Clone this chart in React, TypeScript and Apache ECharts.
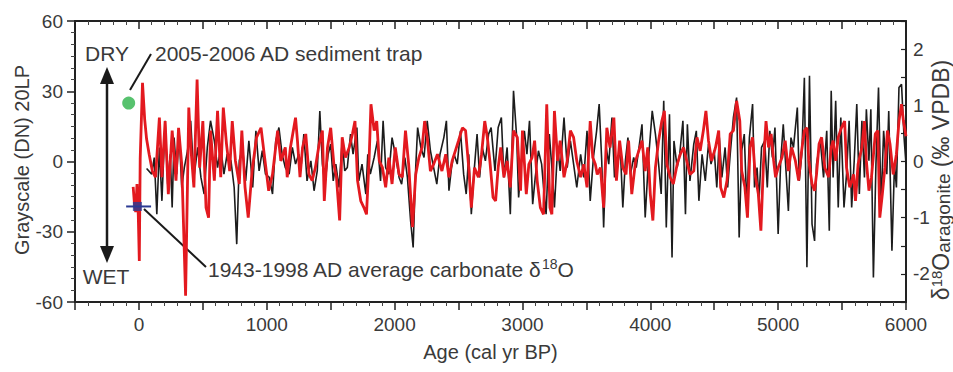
import React, { useEffect, useRef } from "react";
import * as echarts from "echarts";

// ---- Data ----
// Grayscale (DN) 20LP, left axis
const blackAge = [60,100,120,140,160,180,205,225,245,260,275,295,315,335,355,380,405,430,460,485,510,535,560,590,615,640,665,690,720,745,765,785,810,835,860,890,915,940,965,990,1020,1045,1070,1095,1120,1145,1175,1200,1225,1250,1270,1290,1315,1345,1370,1395,1415,1435,1455,1480,1500,1520,1540,1565,1590,1610,1630,1655,1675,1705,1720,1745,1775,1790,1810,1840,1865,1890,1910,1930,1955,1980,2005,2035,2055,2080,2100,2125,2145,2165,2180,2205,2230,2255,2280,2300,2330,2355,2385,2405,2425,2445,2465,2490,2515,2540,2560,2580,2600,2620,2645,2665,2685,2710,2735,2755,2785,2810,2835,2855,2880,2905,2930,2955,2970,2990,3015,3035,3055,3080,3100,3125,3150,3165,3185,3210,3230,3250,3275,3295,3325,3350,3375,3400,3425,3455,3480,3505,3530,3555,3580,3600,3620,3635,3655,3675,3700,3720,3745,3765,3785,3805,3825,3845,3870,3890,3915,3935,3960,3985,4015,4040,4065,4085,4105,4125,4150,4170,4185,4210,4230,4255,4275,4290,4310,4340,4360,4380,4405,4430,4455,4475,4500,4520,4540,4560,4585,4605,4625,4650,4675,4695,4715,4735,4755,4775,4800,4815,4835,4850,4870,4895,4915,4935,4955,4975,5000,5020,5040,5060,5080,5100,5120,5150,5165,5185,5205,5225,5245,5265,5285,5300,5330,5355,5380,5400,5415,5430,5450,5470,5490,5515,5535,5555,5575,5595,5615,5635,5655,5675,5690,5710,5725,5745,5765,5785,5805,5825,5850,5865,5890,5910,5925,5945,5965,5985,6000];
const blackGray = [-3.0,-5.4,1.7,-22.5,6.0,-16.8,17.4,-9.7,3.1,-19.6,10.2,-5.4,11.7,-11.1,-2.6,4.6,17.4,-6.8,6.0,-6.8,-13.9,6.0,17.4,8.8,-2.6,6.0,-5.4,3.1,0.3,-11.1,-35.3,0.3,6.0,-8.3,8.8,-11.1,13.1,-4.0,4.6,-5.4,-6.8,-13.9,8.8,14.5,3.1,-2.6,-5.4,6.0,-1.1,3.1,-1.1,11.7,-8.3,0.3,-12.5,-4.0,21.6,-1.1,-9.7,3.1,7.4,-8.3,-1.1,-11.1,8.8,-4.0,-2.6,11.7,3.1,14.5,-8.3,-1.1,-13.9,3.1,-5.4,1.7,8.8,-8.3,17.4,-2.6,-5.4,10.2,3.1,-6.8,-9.7,1.7,-6.8,-25.3,-36.7,-2.6,14.5,6.0,1.7,17.4,4.6,-1.1,-9.7,3.1,10.2,17.4,-12.5,-2.6,3.1,-1.1,13.1,-5.4,-13.9,3.1,-22.5,-5.4,11.7,-6.8,6.0,0.3,11.7,14.5,-4.0,14.5,18.8,-6.8,6.0,-22.5,30.2,10.2,-15.4,-1.1,13.1,3.1,17.4,-18.2,-6.8,4.6,-1.1,-11.1,-22.5,11.7,-2.6,-19.6,6.0,-4.0,18.8,-2.6,8.8,-1.1,-11.1,3.1,-6.8,13.1,-16.8,1.7,13.1,24.5,0.3,-28.2,6.0,-1.1,18.8,-6.8,-1.1,6.0,-19.6,0.3,10.2,-5.4,1.7,-2.6,7.4,15.9,-23.9,0.3,21.6,11.7,-1.1,-13.9,25.9,-28.2,20.2,-41.0,8.8,-2.6,3.1,17.4,-22.5,15.9,-8.3,7.4,13.1,-16.8,3.1,-8.3,7.4,-1.1,4.6,-11.1,10.2,-6.8,6.0,-11.1,3.1,18.8,27.3,-32.4,4.6,11.7,-19.6,10.2,24.5,-11.1,-2.6,-16.8,6.0,8.8,-11.1,13.1,1.7,14.5,-31.0,0.3,15.9,-2.6,-21.1,10.2,6.0,23.0,-8.3,3.1,35.8,-45.2,36.6,-26.7,-33.9,-1.1,8.8,-6.8,13.1,-29.6,30.2,-6.8,25.9,-19.6,18.8,-19.6,-5.4,17.4,-19.6,0.3,24.5,-13.9,17.4,-6.8,22.3,0.3,22.3,-49.5,-1.1,31.6,-19.6,13.1,-5.4,21.6,-38.1,-1.1,-11.1,31.6,33.0,10.2,-1.1];

// δ18O aragonite (‰ VPDB), right axis
const redAge = [-45,-35,-25,-15,-5,3,10,28,45,60,80,105,130,160,180,205,230,260,290,310,335,365,390,410,430,455,475,500,525,545,560,590,615,640,660,685,710,730,755,785,805,830,855,885,920,955,980,1015,1045,1085,1110,1145,1160,1185,1225,1240,1260,1280,1305,1330,1355,1380,1410,1435,1450,1475,1500,1525,1545,1570,1590,1615,1645,1670,1690,1710,1735,1760,1780,1800,1815,1840,1860,1880,1905,1930,1955,1980,2005,2035,2060,2085,2110,2140,2165,2190,2215,2235,2255,2280,2305,2335,2370,2400,2425,2450,2475,2500,2530,2555,2580,2600,2625,2655,2680,2705,2725,2745,2770,2790,2810,2830,2855,2880,2905,2930,2960,2985,3000,3030,3050,3075,3095,3115,3140,3165,3190,3215,3230,3250,3275,3295,3325,3350,3375,3400,3425,3455,3480,3505,3530,3550,3570,3585,3610,3635,3660,3685,3715,3735,3760,3785,3810,3830,3855,3885,3910,3935,3960,3980,4000,4020,4040,4065,4090,4110,4130,4155,4180,4210,4235,4260,4285,4310,4340,4365,4390,4415,4435,4455,4480,4510,4535,4550,4575,4600,4625,4650,4675,4700,4715,4740,4760,4780,4800,4820,4845,4865,4885,4905,4925,4945,4965,4980,5000,5030,5055,5080,5105,5135,5160,5180,5205,5225,5240,5265,5285,5300,5320,5340,5365,5395,5415,5430,5450,5470,5495,5520,5535,5560,5590,5605,5625,5655,5675,5690,5710,5730,5760,5780,5795,5815,5835,5855,5875,5900,5925,5945,5965,5980,6000];
const redD18O = [-0.45,-0.75,-0.90,-0.40,-0.95,-1.77,0.05,1.40,0.75,0.40,0.13,-0.17,-0.28,0.78,-0.28,0.72,-0.58,0.55,-0.34,0.60,-0.05,-2.39,0.96,0.13,-0.46,1.46,-0.11,0.72,-0.82,-1.00,0.55,-0.34,0.90,-0.28,0.96,0.31,-0.17,0.72,0.01,-0.40,0.55,-0.46,-1.00,-0.17,0.43,0.60,0.13,-0.52,-0.23,0.55,0.01,0.25,-0.28,0.25,0.78,0.37,-0.28,0.25,0.49,-0.23,-0.34,-0.11,0.31,0.55,-0.70,0.25,0.60,-0.05,-0.28,-1.05,0.43,0.07,0.25,0.49,0.72,-0.34,-0.70,-0.82,-0.94,0.01,1.02,0.55,0.72,0.01,-0.11,-0.46,0.07,-0.40,0.25,-0.23,-0.28,0.55,-0.05,-1.17,-0.23,0.07,0.25,0.72,0.43,-0.17,-0.05,0.13,-0.17,0.13,-0.28,0.01,0.19,0.37,0.60,0.55,-0.11,-0.82,-0.11,-0.28,0.13,0.72,0.43,0.01,-0.64,-0.70,-0.11,0.25,-0.28,0.01,-0.46,0.55,0.43,-0.52,0.55,-0.58,-0.05,0.07,0.37,-0.34,-0.82,-0.94,1.02,-0.82,-0.94,0.90,0.01,0.37,-0.28,0.01,0.55,0.43,0.01,-0.28,-0.05,-0.46,0.72,0.07,-0.05,-0.23,-0.11,-0.82,0.60,0.25,0.78,-0.34,0.37,-0.11,-0.23,0.37,-0.58,0.01,0.19,0.37,-0.17,0.25,-0.58,-1.05,-0.11,0.37,0.72,0.90,-0.05,-0.28,-0.40,-0.05,0.13,0.25,0.01,-0.23,-0.17,0.43,0.19,0.55,0.90,0.37,0.01,0.25,0.55,-0.46,-0.64,-0.34,0.49,0.55,1.08,0.72,-0.17,-0.46,-1.00,0.25,0.43,-0.23,-0.58,-1.23,-0.05,0.72,0.25,0.49,0.01,-0.28,-0.11,0.07,0.37,-0.17,0.25,0.01,-0.34,0.13,0.55,0.60,0.01,-0.40,-0.52,-0.23,0.31,0.43,-0.11,-0.28,0.25,0.37,0.01,0.43,0.60,0.72,-0.11,-0.46,-0.23,-0.70,-0.05,0.25,0.72,0.01,-0.52,-0.28,0.49,0.55,-1.00,-0.58,-0.11,0.55,0.31,-0.23,0.13,0.72,1.02,0.72,0.45];

// Reference points
const trapAge = [-80];
const trapD18O = [1.04];
const modernAge = [-12];
const modernD18O = [-0.8];
const modernRange = [-100, 95];

const xTickLabels = [0, 1000, 2000, 3000, 4000, 5000, 6000];
const leftTicks = [-60, -30, 0, 30, 60];
const rightTicks = [-2, -1, 0, 1, 2];

const FONT = '"Liberation Sans", Arial, Helvetica, sans-serif';
const TXT = "#3a3a3a";
const AXIS = "#222";

export default function App() {
  const ref = useRef<HTMLDivElement>(null);
  useEffect(() => {
    if (!ref.current) return;
    const chart = echarts.init(ref.current, null, { renderer: "svg" });
    const baseX = {
      type: "value",
      min: -500,
      max: 6000,
      interval: 500,
      splitLine: { show: false },
      axisLine: { show: true, onZero: false, lineStyle: { color: AXIS, width: 2 } },
      minorTick: { show: true, splitNumber: 5, length: 4, lineStyle: { color: "#444", width: 1 } },
    };
    const option = {
      animation: false,
      backgroundColor: "#ffffff",
      grid: { left: 75, right: 47, top: 21, bottom: 70 },
      xAxis: [
        {
          ...baseX,
          position: "bottom",
          axisTick: { show: true, inside: false, length: 8, lineStyle: { color: AXIS, width: 1.5 } },
          axisLabel: {
            formatter: (v: number) => (xTickLabels.includes(v) ? String(v) : ""),
            fontSize: 19,
            color: TXT,
            fontFamily: FONT,
            margin: 13,
          },
          name: "Age (cal yr BP)",
          nameLocation: "middle",
          nameGap: 40,
          nameTextStyle: { fontSize: 20, color: TXT, fontFamily: FONT },
        },
        {
          ...baseX,
          position: "top",
          axisTick: { show: true, inside: true, length: 8, lineStyle: { color: AXIS, width: 1.5 } },
          axisLabel: { show: false },
        },
      ],
      yAxis: [
        {
          type: "value",
          position: "left",
          min: -60,
          max: 60,
          interval: 30,
          splitLine: { show: false },
          axisLine: { show: true, onZero: false, lineStyle: { color: AXIS, width: 2 } },
          axisTick: { show: true, inside: false, length: 8, lineStyle: { color: AXIS, width: 1.5 } },
          minorTick: { show: true, splitNumber: 6, length: 4, lineStyle: { color: "#444", width: 1 } },
          axisLabel: {
            formatter: (v: number) => (leftTicks.includes(v) ? String(v) : ""),
            fontSize: 19,
            color: TXT,
            fontFamily: FONT,
            margin: 12,
          },
        },
        {
          type: "value",
          position: "right",
          min: -2.5,
          max: 2.5,
          interval: 0.5,
          splitLine: { show: false },
          axisLine: { show: true, onZero: false, lineStyle: { color: AXIS, width: 2 } },
          axisTick: { show: true, inside: true, length: 5, lineStyle: { color: AXIS, width: 1.2 } },
          axisLabel: {
            formatter: (v: number) => (rightTicks.includes(v) ? String(v) : ""),
            fontSize: 19,
            color: TXT,
            fontFamily: FONT,
            margin: 7,
          },
        },
      ],
      series: [
        {
          type: "line",
          name: "Grayscale",
          xAxisIndex: 0,
          yAxisIndex: 0,
          data: blackAge.map((a, i) => [a, blackGray[i]]),
          showSymbol: false,
          symbol: "none",
          lineStyle: { color: "#1c1c1c", width: 1.6 },
          z: 2,
        },
        {
          type: "line",
          name: "d18O",
          xAxisIndex: 0,
          yAxisIndex: 1,
          data: redAge.map((a, i) => [a, redD18O[i]]),
          showSymbol: false,
          symbol: "none",
          lineStyle: { color: "#e3191f", width: 2.8 },
          z: 3,
        },
        {
          type: "line",
          name: "modern range",
          xAxisIndex: 0,
          yAxisIndex: 1,
          data: modernRange.map((a) => [a, modernD18O[0]]),
          showSymbol: false,
          symbol: "none",
          lineStyle: { color: "#2b3a93", width: 2 },
          z: 5,
        },
        {
          type: "scatter",
          name: "modern",
          xAxisIndex: 0,
          yAxisIndex: 1,
          data: modernAge.map((a, i) => [a, modernD18O[i]]),
          symbol: "rect",
          symbolSize: 9,
          itemStyle: { color: "#2b3a93" },
          z: 6,
        },
        {
          type: "scatter",
          name: "trap",
          xAxisIndex: 0,
          yAxisIndex: 1,
          data: trapAge.map((a, i) => [a, trapD18O[i]]),
          symbol: "circle",
          symbolSize: 13,
          itemStyle: { color: "#2db34a" },
          z: 6,
        },
      ],
      graphic: [
        // vertical double arrow
        { type: "line", shape: { x1: 107, y1: 80, x2: 107, y2: 250 }, style: { stroke: "#1a1a1a", lineWidth: 2.5 } },
        { type: "polygon", shape: { points: [[107, 67], [100, 84], [114, 84]] }, style: { fill: "#1a1a1a" } },
        { type: "polygon", shape: { points: [[107, 263], [100, 246], [114, 246]] }, style: { fill: "#1a1a1a" } },
        {
          type: "text",
          x: 107,
          y: 53,
          style: { text: "DRY", fontSize: 21, fontFamily: FONT, fill: TXT, align: "center", verticalAlign: "middle" },
        },
        {
          type: "text",
          x: 106,
          y: 276,
          style: { text: "WET", fontSize: 21, fontFamily: FONT, fill: TXT, align: "center", verticalAlign: "middle" },
        },
        // leader lines
        { type: "line", shape: { x1: 130, y1: 90, x2: 151, y2: 54 }, style: { stroke: "#1a1a1a", lineWidth: 2 } },
        { type: "line", shape: { x1: 144, y1: 209, x2: 206, y2: 267 }, style: { stroke: "#1a1a1a", lineWidth: 2 } },
        {
          type: "text",
          x: 155,
          y: 53,
          style: {
            text: "2005-2006 AD sediment trap",
            fontSize: 21,
            fontFamily: FONT,
            fill: TXT,
            align: "left",
            verticalAlign: "middle",
          },
        },
        {
          type: "text",
          x: 208,
          y: 268,
          style: {
            text: "{t|1943-1998 AD average carbonate δ}{s|18}{t|O}",
            fontFamily: FONT,
            fill: TXT,
            align: "left",
            verticalAlign: "middle",
            rich: {
              t: { fontSize: 21, fontFamily: FONT, fill: TXT, verticalAlign: "bottom", lineHeight: 23 },
              s: { fontSize: 14, fontFamily: FONT, fill: TXT, verticalAlign: "top", lineHeight: 23 },
            },
          },
        },
        // axis titles
        {
          type: "text",
          x: 22,
          y: 160,
          rotation: Math.PI / 2,
          style: {
            text: "Grayscale (DN) 20LP",
            fontSize: 20,
            fontFamily: FONT,
            fill: TXT,
            align: "center",
            verticalAlign: "middle",
          },
        },
        {
          type: "text",
          x: 941,
          y: 180,
          rotation: Math.PI / 2,
          style: {
            text: "{t|δ}{s|18}{t|O}{b|aragonite}{t| (‰ VPDB)}",
            fontFamily: FONT,
            fill: TXT,
            align: "center",
            verticalAlign: "middle",
            rich: {
              t: { fontSize: 23, fontFamily: FONT, fill: TXT, verticalAlign: "middle", lineHeight: 24 },
              s: { fontSize: 15, fontFamily: FONT, fill: TXT, verticalAlign: "top", lineHeight: 24 },
              b: { fontSize: 19, fontFamily: FONT, fill: TXT, verticalAlign: "bottom", lineHeight: 24 },
            },
          },
        },
      ],
    };
    chart.setOption(option as any);
    return () => chart.dispose();
  }, []);
  return (
    <div
      ref={ref}
      style={{ position: "absolute", left: 0, top: 0, width: 953, height: 372, background: "#fff" }}
    />
  );
}
